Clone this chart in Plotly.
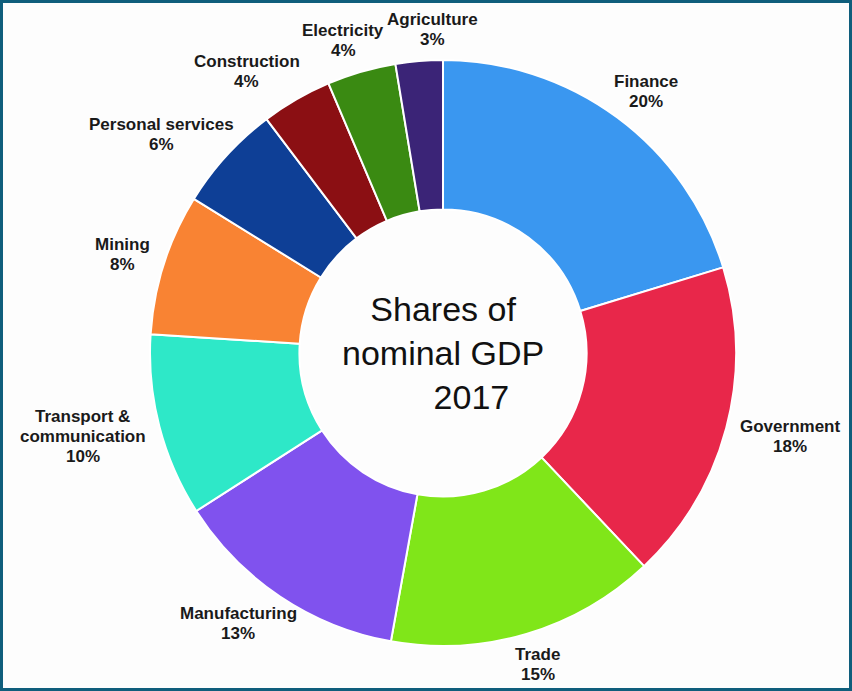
import math
import plotly.graph_objects as go

categories = ["Finance", "Government", "Trade", "Manufacturing",
              "Transport &<br>communication", "Mining", "Personal services",
              "Construction", "Electricity", "Agriculture"]
shares = [20.3, 17.7, 14.9, 13.1, 10.1, 7.8, 5.9, 3.9, 3.8, 2.6]
pct_labels = ["20%", "18%", "15%", "13%", "10%", "8%", "6%", "4%", "4%", "3%"]
colors = ["#3a97f0", "#e8274a", "#80e619", "#8052ee", "#2ee8c8",
          "#f98333", "#0e3f96", "#8b0f13", "#3a8a12", "#3b2477"]

W, H = 852, 691
ML, MR, MT, MB = 150, 116, 60, 45
pw = W - ML - MR
ph = H - MT - MB
R = min(pw, ph) / 2          # pie radius in px (plotly rule)
CX, CY = ML + pw / 2, MT + ph / 2
GAP = 16                     # gap between ring and labels
LBL_SIZE = 17
LINE_H = 20                  # label line spacing in px
FONT = "Liberation Sans, Arial, sans-serif"

# approximate Arial Bold advance widths (em/1000) for label box estimates
CW = {" ": 278, "&": 722, "%": 889, "A": 722, "C": 722, "E": 667, "F": 611,
      "G": 778, "M": 833, "P": 667, "T": 611, "a": 556, "b": 611, "c": 556,
      "d": 611, "e": 556, "f": 333, "g": 611, "h": 611, "i": 278, "l": 278,
      "m": 889, "n": 611, "o": 611, "p": 611, "r": 389, "s": 556, "t": 333,
      "u": 611, "v": 556, "y": 556}


def text_w(t):
    return sum(CW.get(ch, 556) for ch in t) / 1000 * LBL_SIZE


fig = go.Figure(go.Pie(
    labels=[c.replace("<br>", " ") for c in categories],
    values=shares,
    textinfo="none",
    hole=0.49,
    sort=False,
    direction="clockwise",
    rotation=0,
    marker=dict(colors=colors, line=dict(color="white", width=2)),
    showlegend=False,
    hoverinfo="label+percent",
    automargin=False,
))

# outside label boxes from the slice mid-angles (screen px, y down)
total = sum(shares)
boxes = []
cum = 0.0
for cat, val, pct in zip(categories, shares, pct_labels):
    mid = (cum + val / 2) / total * 2 * math.pi
    cum += val
    s, c = math.sin(mid), math.cos(mid)
    lines = cat.split("<br>") + [pct]
    w = max(text_w(t) for t in lines)
    h = len(lines) * LINE_H
    cx = CX + (R + GAP) * s + s * w / 2
    cy = CY - (R + GAP) * c - c * h * 0.4
    boxes.append([cx, cy, w, h, lines])

# push overlapping labels apart horizontally
PAD = 3
for _ in range(60):
    moved = False
    for i in range(len(boxes)):
        for j in range(i + 1, len(boxes)):
            a, b = boxes[i], boxes[j]
            ox = (a[2] + b[2]) / 2 + PAD - abs(a[0] - b[0])
            oy = (a[3] + b[3]) / 2 - abs(a[1] - b[1])
            if ox > 0 and oy > 0:
                sgn = 1 if a[0] >= b[0] else -1
                a[0] += sgn * ox / 2
                b[0] -= sgn * ox / 2
                moved = True
    if not moved:
        break

for cx, cy, w, h, lines in boxes:
    for k, t in enumerate(lines):
        ly = cy - h / 2 + LINE_H * (k + 0.5)
        fig.add_annotation(
            x=(cx - ML) / pw, y=(H - MB - ly) / ph,
            xref="paper", yref="paper", showarrow=False,
            xanchor="center", yanchor="middle",
            text="<b>" + t + "</b>",
            font=dict(family=FONT, size=LBL_SIZE, color="#1a1a1a"),
        )

# frame around the whole image
fig.add_shape(type="rect", xref="paper", yref="paper",
              x0=(1.5 - ML) / pw, x1=(W - 1.5 - ML) / pw,
              y0=(H - MB - (H - 1.5)) / ph, y1=(H - MB - 1.5) / ph,
              line=dict(color="#0f5e7c", width=3), layer="above")

fig.add_annotation(
    x=0.5, y=0.5, xref="paper", yref="paper", showarrow=False,
    text="Shares of<br>nominal GDP<br>\u00a0\u00a0\u00a0\u00a0\u00a0\u00a02017",
    font=dict(family=FONT, size=34, color="#111111"),
    align="center",
)

fig.update_layout(
    width=W, height=H,
    margin=dict(l=ML, r=MR, t=MT, b=MB, autoexpand=False),
    paper_bgcolor="#fdfdfd",
    plot_bgcolor="#fdfdfd",
)

fig.write_html("out.html")
